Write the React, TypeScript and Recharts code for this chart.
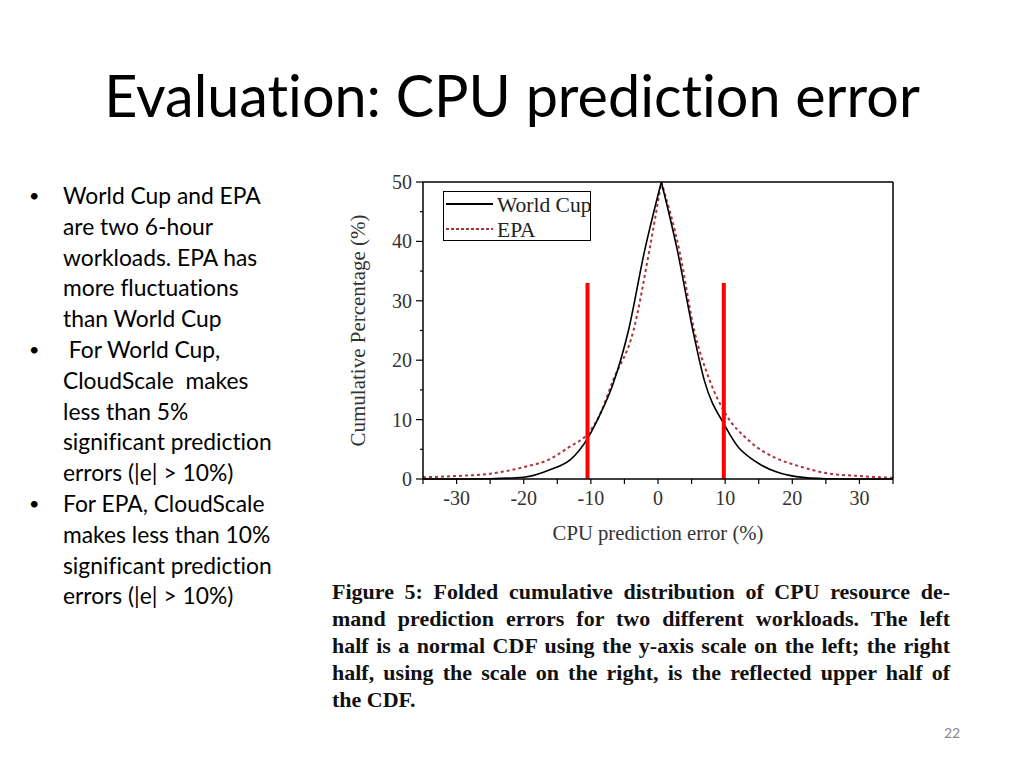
import React from 'react';
import { LineChart, Line, XAxis, YAxis, ReferenceLine, Legend } from 'recharts';

// World Cup: folded CDF
const wcErr = [-35, -30, -25, -20, -16, -13, -10.5, -8.7, -6.7, -4.4, -2, 0.5, 2.9, 5.2, 6.9, 9.9, 12, 13.7, 15, 17.6, 20.6, 25, 30, 35];
const wcPct = [0, 0, 0.05, 0.3, 1.6, 3.3, 6.8, 10.7, 16, 25, 38.4, 50, 38.4, 25, 16.6, 9.1, 5.3, 3.6, 2.6, 1.2, 0.4, 0.05, 0, 0];

// EPA
const epaErr = [-35, -30, -25, -20, -16.2, -13.2, -10.4, -8.7, -6.7, -3.65, -1.3, 0.5, 3.2, 5.4, 7.7, 9.9, 13.7, 17.6, 20.6, 25, 30, 35];
const epaPct = [0.3, 0.5, 0.9, 2.0, 3.3, 5.4, 7.7, 10.7, 16.6, 25, 38.4, 50, 38.4, 25, 16.6, 11.3, 6.3, 3.5, 2.3, 1.0, 0.5, 0.2];

const peakErr = 0.5;

// threshold markers (red bars)
const markErr = [-10.5, 9.8];
const markTop = 33;

const xTicks = [-35, -30, -25, -20, -15, -10, -5, 0, 5, 10, 15, 20, 25, 30, 35];
const leftTicks = [0, 5, 10, 15, 20, 25, 30, 35, 40, 45, 50];
const rightTicks = [50, 55, 60, 65, 70, 75, 80, 85, 90, 95, 100];

const bullets = [
  ['World Cup and EPA', 'are two 6-hour', 'workloads. EPA has', 'more fluctuations', 'than World Cup'],
  [' For World Cup,', 'CloudScale  makes', 'less than 5%', 'significant prediction', 'errors (|e| > 10%)'],
  ['For EPA, CloudScale', 'makes less than 10%', 'significant prediction', 'errors (|e| > 10%)'],
];

const caption = [
  'Figure 5: Folded cumulative distribution of CPU resource de-',
  'mand prediction errors for two different workloads.  The left',
  'half is a normal CDF using the y-axis scale on the left; the right',
  'half, using the scale on the right, is the reflected upper half of',
  'the CDF.',
];

const half = (xs: number[], ys: number[], left: boolean) =>
  xs
    .map((x, i) => ({ x, y: ys[i] }))
    .filter((p) => (left ? p.x <= peakErr : p.x >= peakErr));

const wcLeft = half(wcErr, wcPct, true);
const wcRight = half(wcErr, wcPct, false);
const epaLeft = half(epaErr, epaPct, true);
const epaRight = half(epaErr, epaPct, false);

const serif = '"Liberation Serif", "Times New Roman", serif';
const sans = 'Lato, "Open Sans", sans-serif';
const tickFill = '#333';
const epaColor = '#b0303c';

const XTick = (props: any) => {
  const { x, y, payload } = props;
  const v = payload.value;
  const major = v % 10 === 0;
  return (
    <g>
      <line x1={x} x2={x} y1={y} y2={y + 5} stroke="#000" strokeWidth={1.2} />
      {major && (
        <text x={x} y={y + 19} textAnchor="middle" dominantBaseline="central" fontFamily={serif} fontSize={20} fill={tickFill}>
          {v}
        </text>
      )}
    </g>
  );
};

const LeftTick = (props: any) => {
  const { x, y, payload } = props;
  const v = payload.value;
  const major = v % 10 === 0;
  return (
    <g>
      <line x1={x - (major ? 7 : 3)} x2={x} y1={y} y2={y} stroke="#000" strokeWidth={1.2} />
      {major && (
        <text x={x - 11} y={y} textAnchor="end" dominantBaseline="central" fontFamily={serif} fontSize={20} fill={tickFill}>
          {v}
        </text>
      )}
    </g>
  );
};

const RightTick = (props: any) => {
  const { x, y, payload } = props;
  const v = payload.value;
  const major = v % 10 === 0;
  return (
    <g>
      <line x1={x} x2={x - (major ? 7 : 3)} y1={y} y2={y} stroke="#000" strokeWidth={1.2} />
      {major && (
        <text x={x + 7} y={y} textAnchor="start" dominantBaseline="central" fontFamily={serif} fontSize={20} fill={tickFill}>
          {v}
        </text>
      )}
    </g>
  );
};

const LegendBox = () => (
  <div
    style={{
      border: '1px solid #000',
      width: 148,
      height: 50,
      background: '#fff',
      boxSizing: 'border-box',
      position: 'relative',
    }}
  >
    <svg width={148} height={50} style={{ position: 'absolute', left: 0, top: 0 }}>
      <line x1={2} x2={49} y1={12} y2={12} stroke="#000" strokeWidth={2} />
      <line x1={2} x2={49} y1={37} y2={37} stroke={epaColor} strokeWidth={2} strokeDasharray="3 2" />
      <text x={53} y={13} dominantBaseline="central" fontFamily={serif} fontSize={21.5} fill="#222">World Cup</text>
      <text x={53} y={38} dominantBaseline="central" fontFamily={serif} fontSize={21.5} fill="#222">EPA</text>
    </svg>
  </div>
);

export default function App() {
  return (
    <div style={{ position: 'absolute', left: 0, top: 0, width: 1024, height: 768, background: '#fff', overflow: 'hidden' }}>
      <div
        style={{
          position: 'absolute',
          left: 0,
          width: 1024,
          top: 60,
          textAlign: 'center',
          fontFamily: sans,
          fontSize: 57.5,
          lineHeight: '70px',
          color: '#000',
          fontVariantLigatures: 'none',
        }}
      >
        Evaluation: CPU prediction error
      </div>

      <div
        style={{
          position: 'absolute',
          left: 0,
          top: 180,
          fontFamily: sans,
          fontSize: 22.8,
          lineHeight: '30.8px',
          color: '#000',
          fontVariantLigatures: 'none',
        }}
      >
        {bullets.map((lines, i) => (
          <div key={i} style={{ position: 'relative', paddingLeft: 63 }}>
            <span style={{ position: 'absolute', left: 29, fontSize: 18 }}>•</span>
            {lines.map((l, j) => (
              <div key={j} style={{ whiteSpace: 'pre' }}>{l}</div>
            ))}
          </div>
        ))}
      </div>

      <div style={{ position: 'absolute', left: 320, top: 165 }}>
        <LineChart width={620} height={380} margin={{ top: 17, right: 2, bottom: 36, left: 43 }}>
          <XAxis
            type="number"
            dataKey="x"
            domain={[-35, 35]}
            ticks={xTicks}
            allowDataOverflow
            height={30}
            tickSize={0}
            tickMargin={0}
            tickLine={false}
            tick={<XTick />}
            axisLine={{ stroke: '#000', strokeWidth: 1.5 }}
            label={{ value: 'CPU prediction error (%)', position: 'center', dy: 39, fontFamily: serif, fontSize: 20.7, fill: '#333' }}
          />
          <YAxis
            yAxisId="left"
            type="number"
            domain={[0, 50]}
            ticks={leftTicks}
            width={60}
            tickSize={0}
            tickMargin={0}
            tickLine={false}
            tick={<LeftTick />}
            axisLine={{ stroke: '#000', strokeWidth: 1.5 }}
            label={{ value: 'Cumulative Percentage (%)', angle: -90, position: 'center', dx: -35, fontFamily: serif, fontSize: 21, fill: '#333' }}
          />
          <YAxis
            yAxisId="right"
            orientation="right"
            type="number"
            domain={[50, 100]}
            reversed
            ticks={rightTicks}
            width={45}
            tickSize={0}
            tickMargin={0}
            tickLine={false}
            tick={<RightTick />}
            axisLine={{ stroke: '#000', strokeWidth: 1.5 }}
          />
          <ReferenceLine yAxisId="left" y={50} stroke="#000" strokeWidth={1.5} ifOverflow="visible" />
          <Line yAxisId="left" data={epaLeft} dataKey="y" type="monotone" stroke={epaColor} strokeWidth={2} strokeDasharray="3 3" dot={false} isAnimationActive={false} />
          <Line yAxisId="left" data={epaRight} dataKey="y" type="monotone" stroke={epaColor} strokeWidth={2} strokeDasharray="3 3" dot={false} isAnimationActive={false} />
          <Line yAxisId="left" data={wcLeft} dataKey="y" type="monotone" stroke="#000" strokeWidth={1.6} dot={false} isAnimationActive={false} />
          <Line yAxisId="left" data={wcRight} dataKey="y" type="monotone" stroke="#000" strokeWidth={1.6} dot={false} isAnimationActive={false} />
          {markErr.map((m) => (
            <ReferenceLine
              key={m}
              yAxisId="left"
              segment={[{ x: m, y: 0 }, { x: m, y: markTop }]}
              stroke="#ff0000"
              strokeWidth={4}
            />
          ))}
          <Legend
            layout="horizontal"
            verticalAlign="middle"
            align="center"
            content={() => <LegendBox />}
            wrapperStyle={{ left: 123, top: 26, width: 148, height: 50 }}
          />
        </LineChart>
      </div>

      <div
        style={{
          position: 'absolute',
          left: 332,
          top: 578,
          width: 618,
          fontFamily: serif,
          fontWeight: 'bold',
          fontSize: 22,
          lineHeight: '27px',
          color: '#111',
        }}
      >
        {caption.map((l, i) => (
          <div key={i} style={{ textAlign: 'justify', textAlignLast: i < caption.length - 1 ? 'justify' : 'left', whiteSpace: 'nowrap' }}>
            {l}
          </div>
        ))}
      </div>

      <div style={{ position: 'absolute', left: 944, top: 724, fontFamily: sans, fontSize: 14, color: '#888' }}>22</div>
    </div>
  );
}
